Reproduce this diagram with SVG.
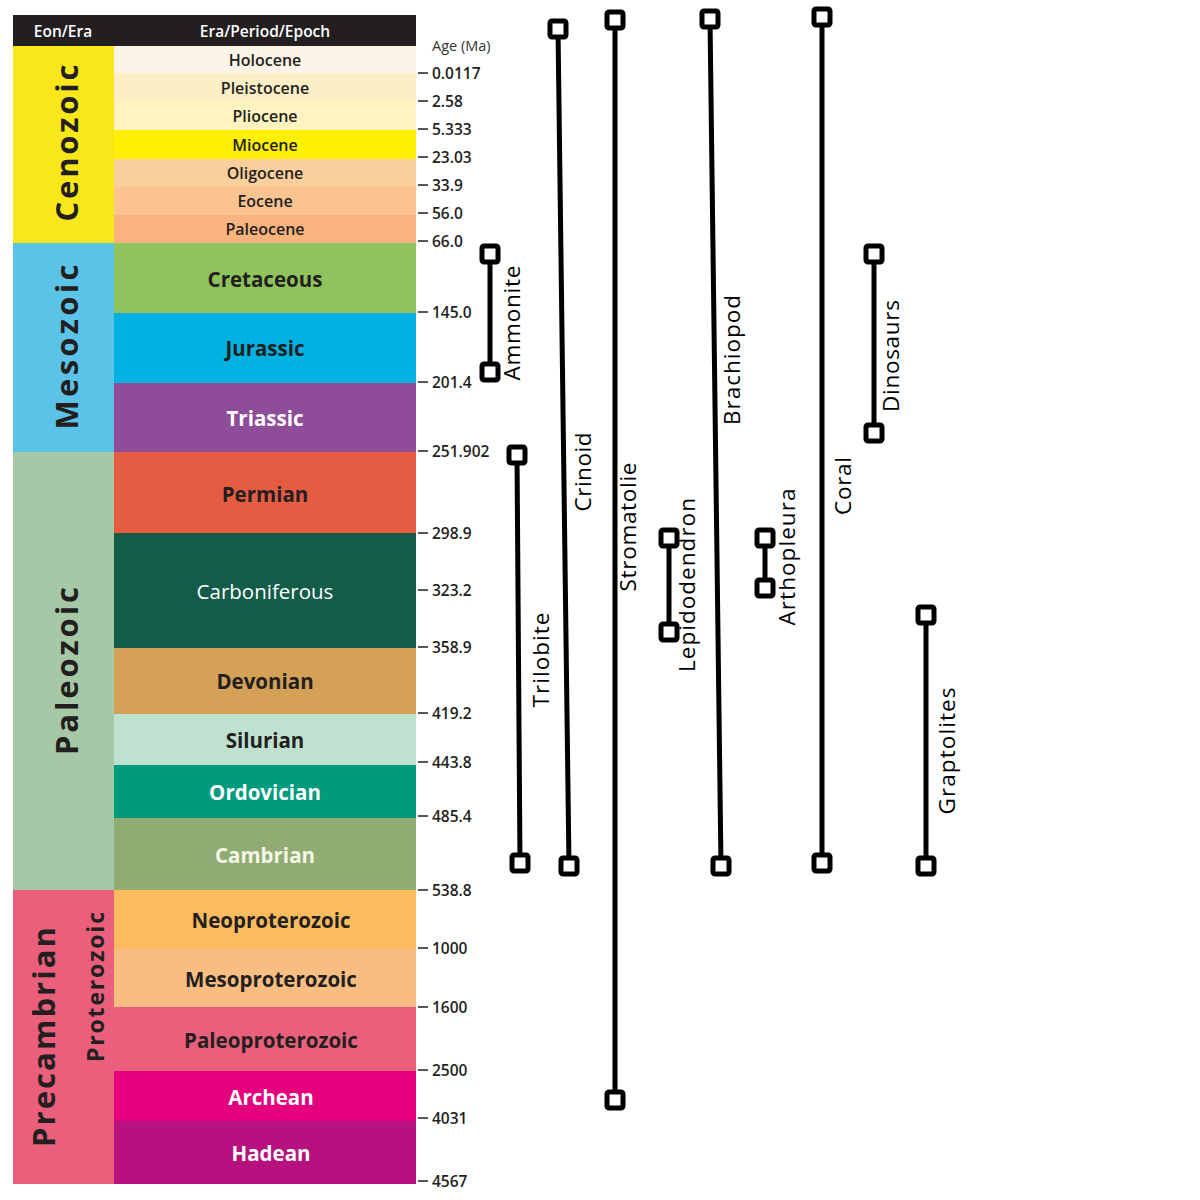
<svg xmlns="http://www.w3.org/2000/svg" width="1200" height="1200" viewBox="0 0 1200 1200">
<style>
.hd{font-family:"Open Sans","Liberation Sans",sans-serif;font-weight:600;font-size:15.5px;fill:#fff;text-anchor:middle;dominant-baseline:central}
.ep{font-family:"Open Sans","Liberation Sans",sans-serif;font-weight:600;font-size:16px;fill:#231f20;text-anchor:middle;dominant-baseline:central}
.pd{font-family:"Open Sans","Liberation Sans",sans-serif;font-weight:700;font-size:20.5px;fill:#231f20;text-anchor:middle;dominant-baseline:central}
.wh{fill:#fff}
.era{font-family:"Open Sans","Liberation Sans",sans-serif;font-weight:700;font-size:31px;fill:#231f20;text-anchor:middle}
.age{font-family:"Open Sans","Liberation Sans",sans-serif;font-weight:600;font-size:15.5px;fill:#231f20;dominant-baseline:central}
.tick{stroke:#231f20;stroke-width:1.5}
.bar{stroke:#000;stroke-width:5;fill:none}
.sq{fill:#fff;stroke:#000;stroke-width:5}
.lb{font-family:"Open Sans","Liberation Sans",sans-serif;font-size:22.5px;fill:#000;text-anchor:middle}
</style>
<rect width="1200" height="1200" fill="#fff"/>
<g id="header">
<rect x="13" y="15" width="403" height="31" fill="#231f20"/>
<text class="hd" x="63" y="31">Eon/Era</text>
<text class="hd" x="265" y="31">Era/Period/Epoch</text>
</g>
<g id="eras">
<rect x="13" y="46" width="101" height="197" fill="#f9e71b"/>
<rect x="13" y="243" width="101" height="209" fill="#5bc3e8"/>
<rect x="13" y="452" width="101" height="438" fill="#a7c8a6"/>
<rect x="13" y="890" width="101" height="294" fill="#ea5f7b"/>
<text class="era" transform="translate(78,143) rotate(-90)" textLength="157" lengthAdjust="spacing">Cenozoic</text>
<text class="era" transform="translate(78,347) rotate(-90)" textLength="165" lengthAdjust="spacing">Mesozoic</text>
<text class="era" transform="translate(78,671) rotate(-90)" textLength="168" lengthAdjust="spacing">Paleozoic</text>
<text class="era" transform="translate(55,1037) rotate(-90)" textLength="220" lengthAdjust="spacing">Precambrian</text>
<text class="era" style="font-size:23px" transform="translate(104,987) rotate(-90)" textLength="150" lengthAdjust="spacing">Proterozoic</text>
</g>
<g id="periods">
<rect x="114" y="46" width="302" height="27" fill="#fdf4e8"/>
<rect x="114" y="73" width="302" height="29" fill="#fdeec6"/>
<rect x="114" y="102" width="302" height="28" fill="#fff4c0"/>
<rect x="114" y="130" width="302" height="29" fill="#fff100"/>
<rect x="114" y="159" width="302" height="28" fill="#fbcf9b"/>
<rect x="114" y="187" width="302" height="28" fill="#fbc38f"/>
<rect x="114" y="215" width="302" height="28" fill="#f9b37e"/>
<rect x="114" y="243" width="302" height="70" fill="#8fc45d"/>
<rect x="114" y="313" width="302" height="70" fill="#00b1e1"/>
<rect x="114" y="383" width="302" height="69" fill="#8f4c98"/>
<rect x="114" y="452" width="302" height="81" fill="#e55c42"/>
<rect x="114" y="533" width="302" height="115" fill="#125c48"/>
<rect x="114" y="648" width="302" height="66" fill="#d4a156"/>
<rect x="114" y="714" width="302" height="51" fill="#bfe1d0"/>
<rect x="114" y="765" width="302" height="53" fill="#009a7d"/>
<rect x="114" y="818" width="302" height="72" fill="#91ac73"/>
<rect x="114" y="890" width="302" height="59" fill="#fdbb5f"/>
<rect x="114" y="949" width="302" height="58" fill="#f9bd82"/>
<rect x="114" y="1007" width="302" height="64" fill="#ea5f7b"/>
<rect x="114" y="1071" width="302" height="50" fill="#e5017d"/>
<rect x="114" y="1121" width="302" height="63" fill="#b6117f"/>
<text class="ep" x="265" y="60">Holocene</text>
<text class="ep" x="265" y="88">Pleistocene</text>
<text class="ep" x="265" y="116">Pliocene</text>
<text class="ep" x="265" y="145">Miocene</text>
<text class="ep" x="265" y="173">Oligocene</text>
<text class="ep" x="265" y="201">Eocene</text>
<text class="ep" x="265" y="229">Paleocene</text>
<text class="pd" x="265" y="279">Cretaceous</text>
<text class="pd" x="265" y="348">Jurassic</text>
<text class="pd wh" x="265" y="418">Triassic</text>
<text class="pd" x="265" y="494">Permian</text>
<text class="pd wh" x="265" y="591" style="font-weight:400">Carboniferous</text>
<text class="pd" x="265" y="681">Devonian</text>
<text class="pd" x="265" y="740">Silurian</text>
<text class="pd wh" x="265" y="792">Ordovician</text>
<text class="pd" x="265" y="855" style="fill:#f4f7e6">Cambrian</text>
<text class="pd" x="271" y="920">Neoproterozoic</text>
<text class="pd" x="271" y="979">Mesoproterozoic</text>
<text class="pd" x="271" y="1040">Paleoproterozoic</text>
<text class="pd wh" x="271" y="1097">Archean</text>
<text class="pd wh" x="271" y="1153">Hadean</text>
</g>
<g id="ages">
<text class="age" x="432" y="45" style="font-weight:400;fill:#333;font-size:14.5px">Age (Ma)</text>
<path class="tick" d="M418 73H428M418 101H428M418 129H428M418 157H428M418 185H428M418 213H428M418 241H428M418 312H428M418 382H428M418 451H428M418 533H428M418 590H428M418 647H428M418 713H428M418 762H428M418 816H428M418 890H428M418 948H428M418 1007H428M418 1070H428M418 1118H428M418 1181H428"/>
<text class="age" x="432" y="73">0.0117</text>
<text class="age" x="432" y="101">2.58</text>
<text class="age" x="432" y="129">5.333</text>
<text class="age" x="432" y="157">23.03</text>
<text class="age" x="432" y="185">33.9</text>
<text class="age" x="432" y="213">56.0</text>
<text class="age" x="432" y="241">66.0</text>
<text class="age" x="432" y="312">145.0</text>
<text class="age" x="432" y="382">201.4</text>
<text class="age" x="432" y="451">251.902</text>
<text class="age" x="432" y="533">298.9</text>
<text class="age" x="432" y="590">323.2</text>
<text class="age" x="432" y="647">358.9</text>
<text class="age" x="432" y="713">419.2</text>
<text class="age" x="432" y="762">443.8</text>
<text class="age" x="432" y="816">485.4</text>
<text class="age" x="432" y="890">538.8</text>
<text class="age" x="432" y="948">1000</text>
<text class="age" x="432" y="1007">1600</text>
<text class="age" x="432" y="1070">2500</text>
<text class="age" x="432" y="1118">4031</text>
<text class="age" x="432" y="1181">4567</text>
</g>
<g id="connectors">
<line class="bar" x1="490" y1="254" x2="490" y2="372"/>
<line class="bar" x1="517" y1="455" x2="520" y2="863"/>
<line class="bar" x1="558" y1="29" x2="569" y2="866"/>
<line class="bar" x1="615" y1="20" x2="615" y2="1100"/>
<line class="bar" x1="669" y1="538" x2="669" y2="632"/>
<line class="bar" x1="710" y1="19" x2="721" y2="866"/>
<line class="bar" x1="765" y1="538" x2="765" y2="588"/>
<line class="bar" x1="822" y1="17" x2="822" y2="863"/>
<line class="bar" x1="874" y1="254" x2="874" y2="433"/>
<line class="bar" x1="926" y1="615" x2="926" y2="866"/>
</g>
<g id="ammonite">
<rect class="sq" x="482" y="246" width="16" height="16" rx="2"/>
<rect class="sq" x="482" y="364" width="16" height="16" rx="2"/>
<text class="lb" transform="translate(520,323) rotate(-90)" textLength="115" lengthAdjust="spacing">Ammonite</text>
</g>
<g id="trilobite">
<rect class="sq" x="509" y="447" width="16" height="16" rx="2"/>
<rect class="sq" x="512" y="855" width="16" height="16" rx="2"/>
<text class="lb" transform="translate(549,660) rotate(-90)" textLength="95" lengthAdjust="spacing">Trilobite</text>
</g>
<g id="crinoid">
<rect class="sq" x="550" y="21" width="16" height="16" rx="2"/>
<rect class="sq" x="561" y="858" width="16" height="16" rx="2"/>
<text class="lb" transform="translate(591,472) rotate(-90)" textLength="79" lengthAdjust="spacing">Crinoid</text>
</g>
<g id="stromatolie">
<rect class="sq" x="607" y="12" width="16" height="16" rx="2"/>
<rect class="sq" x="607" y="1092" width="16" height="16" rx="2"/>
<text class="lb" transform="translate(636,527) rotate(-90)" textLength="129" lengthAdjust="spacing">Stromatolie</text>
</g>
<g id="lepidodendron">
<rect class="sq" x="661" y="530" width="16" height="16" rx="2"/>
<rect class="sq" x="661" y="624" width="16" height="16" rx="2"/>
<text class="lb" transform="translate(695,585) rotate(-90)" textLength="174" lengthAdjust="spacing">Lepidodendron</text>
</g>
<g id="brachiopod">
<rect class="sq" x="702" y="11" width="16" height="16" rx="2"/>
<rect class="sq" x="713" y="858" width="16" height="16" rx="2"/>
<text class="lb" transform="translate(740,360) rotate(-90)" textLength="130" lengthAdjust="spacing">Brachiopod</text>
</g>
<g id="arthopleura">
<rect class="sq" x="757" y="530" width="16" height="16" rx="2"/>
<rect class="sq" x="757" y="580" width="16" height="16" rx="2"/>
<text class="lb" transform="translate(795,557) rotate(-90)" textLength="137" lengthAdjust="spacing">Arthopleura</text>
</g>
<g id="coral">
<rect class="sq" x="814" y="9" width="16" height="16" rx="2"/>
<rect class="sq" x="814" y="855" width="16" height="16" rx="2"/>
<text class="lb" transform="translate(851,486) rotate(-90)" textLength="58" lengthAdjust="spacing">Coral</text>
</g>
<g id="dinosaurs">
<rect class="sq" x="866" y="246" width="16" height="16" rx="2"/>
<rect class="sq" x="866" y="425" width="16" height="16" rx="2"/>
<text class="lb" transform="translate(899,356) rotate(-90)" textLength="112" lengthAdjust="spacing">Dinosaurs</text>
</g>
<g id="graptolites">
<rect class="sq" x="918" y="607" width="16" height="16" rx="2"/>
<rect class="sq" x="918" y="858" width="16" height="16" rx="2"/>
<text class="lb" transform="translate(955,751) rotate(-90)" textLength="127" lengthAdjust="spacing">Graptolites</text>
</g>
</svg>
